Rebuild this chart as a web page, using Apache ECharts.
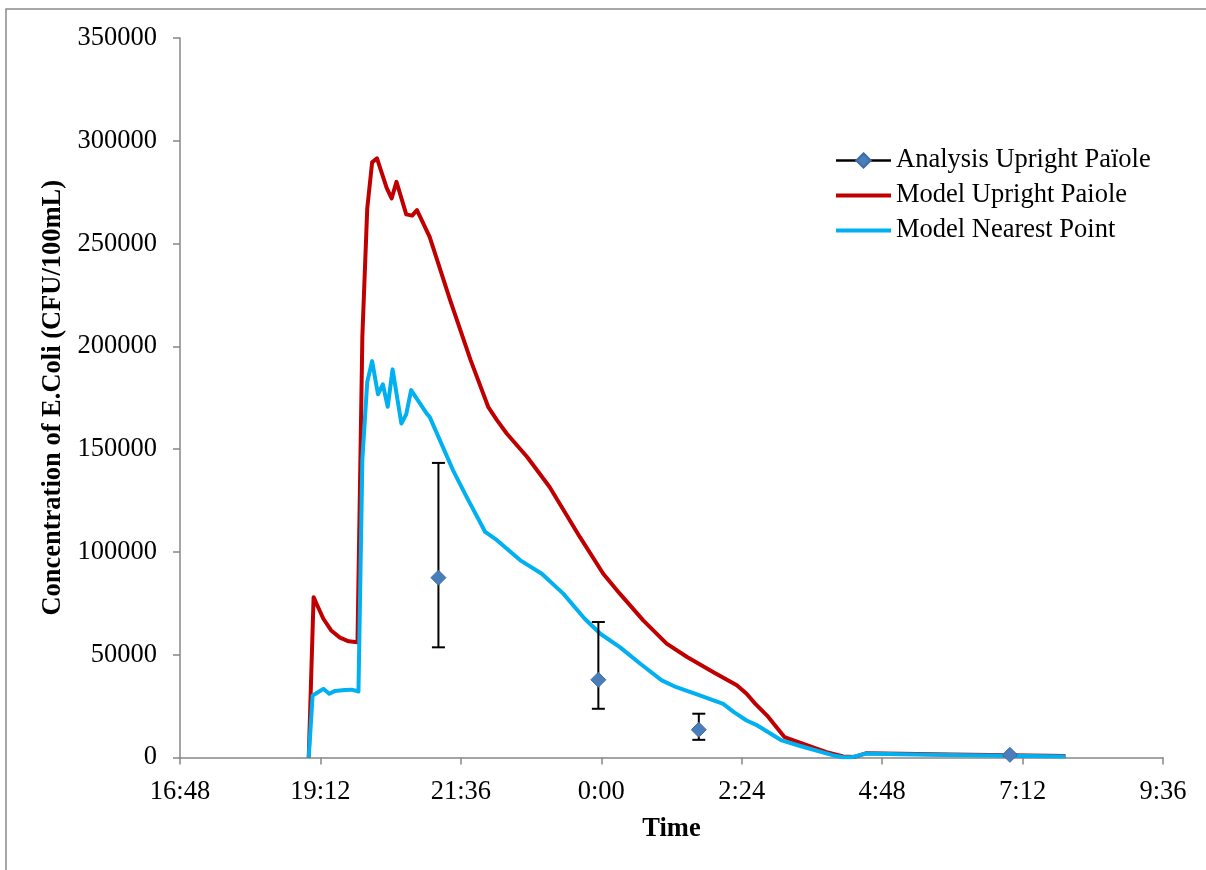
<!DOCTYPE html>
<html>
<head>
<meta charset="utf-8">
<title>E.Coli concentration</title>
<script src="https://cdn.jsdelivr.net/npm/echarts@6/dist/echarts.min.js"></script>
<style>
  html, body { margin: 0; padding: 0; background: #fff; }
  #chart { width: 1206px; height: 870px; }
</style>
</head>
<body>
<div id="chart"></div>
<script>
// Sampling observations (mean with min/max range)
const analysisTime = ['21:13', '23:57', '1:40', '6:59'];
const analysisMean = [87500, 37800, 13500, 1300];
const analysisLow  = [53600, 23700, 8600, 1000];
const analysisHigh = [143300, 65900, 21300, 1600];

// Model output at the upright Païole
const redTime = ['19:00','19:05','19:08','19:15','19:23','19:32','19:41','19:50','19:55','20:00',
  '20:05','20:10','20:20','20:25','20:30','20:40','20:46','20:51','21:04','21:25',
  '21:46','22:04','22:13','22:23','22:44','23:07','23:38','0:02','0:19','0:43',
  '1:07','1:28','1:55','2:19','2:29','2:38','2:50','3:08','3:17','3:51',
  '4:08','4:19','4:32','5:07','5:58','6:59','7:56'];
const redValue = [0, 78000, 74800, 67500, 61800, 58300, 56500, 56100, 205000, 267000,
  289500, 291500, 277000, 272000, 280000, 264200, 263600, 266300, 253300, 222500,
  193300, 170600, 164100, 157600, 146200, 131600, 107300, 89400, 79700, 66700,
  55400, 48900, 41500, 35100, 31000, 26100, 20400, 9900, 8300, 2600,
  500, 200, 2100, 1800, 1400, 1100, 700];

// Model output at the nearest grid point
const blueTime = ['19:00','19:04','19:07','19:15','19:21','19:27','19:37','19:44','19:51','19:55',
  '20:00','20:05','20:11','20:16','20:21','20:26','20:35','20:40','20:45','21:01',
  '21:04','21:28','21:42','22:01','22:13','22:37','22:59','23:21','23:43','23:59',
  '0:19','0:40','1:02','1:17','1:41','2:05','2:16','2:29','2:40','3:05',
  '3:24','3:58','4:08','4:17','4:31','5:07','5:58','6:59','7:56'];
const blueValue = [0, 30200, 31000, 33400, 31000, 32400, 32800, 33000, 32100, 145000,
  182700, 192800, 176700, 181500, 170600, 188800, 162500, 167000, 178700, 167300,
  165700, 139700, 126700, 109700, 105700, 95900, 89400, 79700, 67500, 60200,
  53700, 45600, 37500, 34200, 30200, 26100, 22100, 18000, 15600, 8300,
  5600, 1000, 150, 100, 1900, 1600, 1200, 900, 500];

// Clock strings -> minutes from midnight of the first evening (morning hours roll over)
function toMinutes(s) {
  const [h, m] = s.split(':').map(Number);
  return (h < 12 ? h + 24 : h) * 60 + m;
}
function fmtClock(v) {
  const total = Math.round(v);
  const h = Math.floor(total / 60) % 24;
  const m = total % 60;
  return h + ':' + (m < 10 ? '0' + m : m);
}

const FONT = 'Liberation Serif, Times New Roman, serif';
const FS = 26.5;
const AXIS_GREY = '#878787';

const chart = echarts.init(document.getElementById('chart'), null, { renderer: 'canvas' });

const option = {
  backgroundColor: '#ffffff',
  animation: false,
  textStyle: { fontFamily: FONT, color: '#000' },
  graphic: [{
    type: 'rect',
    shape: { x: 6, y: 9, width: 1400, height: 1000 },
    style: { fill: 'none', stroke: '#8c8c8c', lineWidth: 1.5 },
    silent: true,
    z: -10
  }],
  grid: { left: 180, right: 43, top: 38, bottom: 112.5, containLabel: false },
  legend: {
    orient: 'vertical',
    left: 834,
    top: 147,
    padding: 0,
    itemWidth: 55,
    itemHeight: 18,
    itemGap: 8,
    textStyle: { fontFamily: FONT, fontSize: FS, color: '#000' },
    data: [
      { name: 'Analysis Upright Païole', lineStyle: { color: '#000', width: 2.5, opacity: 1 } },
      { name: 'Model Upright Paiole', itemStyle: { opacity: 0 }, lineStyle: { width: 4 } },
      { name: 'Model Nearest Point', itemStyle: { opacity: 0 }, lineStyle: { width: 4 } }
    ]
  },
  xAxis: {
    type: 'value',
    min: 1008,
    max: 2016,
    interval: 144,
    name: 'Time',
    nameLocation: 'middle',
    nameGap: 58,
    nameTextStyle: { fontFamily: FONT, fontSize: FS, fontWeight: 'bold', color: '#000' },
    axisLine: { onZero: false, lineStyle: { color: AXIS_GREY, width: 1.5 } },
    axisTick: { show: true, inside: false, length: 7, lineStyle: { color: AXIS_GREY, width: 1.5 } },
    axisLabel: { fontFamily: FONT, fontSize: FS, color: '#000', margin: 21, formatter: fmtClock, showMinLabel: true, showMaxLabel: true },
    splitLine: { show: false }
  },
  yAxis: {
    type: 'value',
    min: 0,
    max: 350000,
    interval: 50000,
    name: 'Concentration of E.Coli (CFU/100mL)',
    nameLocation: 'middle',
    nameRotate: 90,
    nameGap: 110,
    nameTextStyle: { fontFamily: FONT, fontSize: FS, fontWeight: 'bold', color: '#000' },
    axisLine: { show: true, lineStyle: { color: AXIS_GREY, width: 1.5 } },
    axisTick: { show: true, inside: false, length: 7, lineStyle: { color: AXIS_GREY, width: 1.5 } },
    axisLabel: { fontFamily: FONT, fontSize: FS, color: '#000', margin: 23, formatter: v => String(v) },
    splitLine: { show: false }
  },
  series: [
    {
      name: 'Analysis Upright Païole',
      type: 'line',
      data: analysisTime.map((t, i) => [toMinutes(t), analysisMean[i]]),
      symbol: 'diamond',
      symbolSize: 15,
      showAllSymbol: true,
      lineStyle: { color: '#000', width: 2.5, opacity: 0 },
      itemStyle: { color: '#4A7EBB', borderColor: '#3E6DA5', borderWidth: 1 },
      z: 5
    },
    {
      name: 'Model Upright Paiole',
      type: 'line',
      data: redTime.map((t, i) => [toMinutes(t), redValue[i]]),
      symbol: 'none',
      lineStyle: { color: '#C00000', width: 4, join: 'round' },
      itemStyle: { color: '#C00000' },
      z: 2
    },
    {
      name: 'Model Nearest Point',
      type: 'line',
      data: blueTime.map((t, i) => [toMinutes(t), blueValue[i]]),
      symbol: 'none',
      lineStyle: { color: '#00B0F0', width: 4, join: 'round' },
      itemStyle: { color: '#00B0F0' },
      z: 3
    },
    {
      // min/max range bars for the sampling observations
      name: 'Analysis Upright Païole',
      type: 'custom',
      silent: true,
      z: 4,
      data: analysisTime.map((t, i) => [toMinutes(t), analysisLow[i], analysisHigh[i]]),
      encode: { x: 0, y: [1, 2] },
      renderItem: function (params, api) {
        const x = api.value(0);
        const lo = api.coord([x, api.value(1)]);
        const hi = api.coord([x, api.value(2)]);
        const cap = 6.5;
        const style = { stroke: '#000', lineWidth: 2 };
        return {
          type: 'group',
          children: [
            { type: 'line', shape: { x1: lo[0], y1: lo[1], x2: hi[0], y2: hi[1] }, style: style },
            { type: 'line', shape: { x1: hi[0] - cap, y1: hi[1], x2: hi[0] + cap, y2: hi[1] }, style: style },
            { type: 'line', shape: { x1: lo[0] - cap, y1: lo[1], x2: lo[0] + cap, y2: lo[1] }, style: style }
          ]
        };
      }
    }
  ]
};

chart.setOption(option);
</script>
</body>
</html>
